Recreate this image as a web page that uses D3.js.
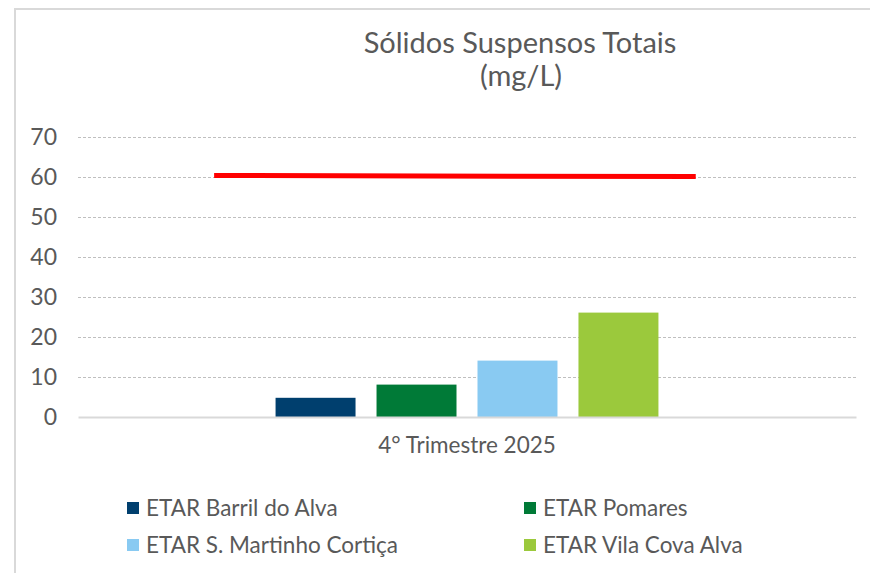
<!doctype html>
<html>
<head>
<meta charset="utf-8">
<style>
    body { margin: 0; background: #fff; }
    text { font-family: Lato, "Open Sans", sans-serif; fill: #595959; }
</style>
<script src="https://d3js.org/d3.v7.min.js"></script>
</head>
<body>
<svg width="870" height="573"></svg>
<script>
    // data
    var categories = ["4° Trimestre 2025"];
    var seriesNames = ["ETAR Barril do Alva", "ETAR Pomares", "ETAR S. Martinho Cortiça", "ETAR Vila Cova Alva"];
    var seriesValues = [4.8, 8.1, 14.1, 26.1];
    var seriesColors = ["#003f6e", "#007a37", "#89caf2", "#9bc93c"];
    var limitX = [17.5, 79.4];      // percent of plot width
    var limitValues = [60.4, 60.1];
    var yTicks = [0, 10, 20, 30, 40, 50, 60, 70];

    var svg = d3.select("svg");
    var margin = {left: 78, right: 14, top: 137, bottom: 156};
    var width = 870 - margin.left - margin.right,
        height = 573 - margin.top - margin.bottom;

    // outer frame
    svg.append("rect")
       .attr("x", 15).attr("y", 9)
       .attr("width", 900).attr("height", 600)
       .attr("fill", "none")
       .attr("stroke", "#d9d9d9")
       .attr("stroke-width", 2);

    // title
    var title = svg.append("text")
       .attr("x", 520).attr("y", 53)
       .attr("text-anchor", "middle")
       .attr("font-size", "29px");
    title.append("tspan").attr("x", 520).text("Sólidos Suspensos Totais");
    title.append("tspan").attr("x", 521).attr("dy", 33).text("(mg/L)");

    var g = svg.append("g")
               .attr("transform", "translate(" + margin.left + "," + margin.top + ")");

    var y = d3.scaleLinear().domain([0, 70]).range([height, 0]);
    var x0 = d3.scaleBand().domain(categories).range([0, width]).paddingInner(0).paddingOuter(0.516);
    var x1 = d3.scaleBand().domain(seriesNames).range([0, x0.bandwidth()]).paddingInner(0.208);
    var xl = d3.scaleLinear().domain([0, 100]).range([0, width]);

    // gridlines
    g.append("g")
     .selectAll("line")
     .data(yTicks.filter(function(d) { return d > 0; }))
     .enter().append("line")
     .attr("x1", 0).attr("x2", width)
     .attr("y1", function(d) { return Math.round(y(d)) + 0.5; })
     .attr("y2", function(d) { return Math.round(y(d)) + 0.5; })
     .attr("stroke", "#bfbfbf")
     .attr("stroke-dasharray", "3,2");

    // y axis labels
    var yAxis = g.append("g")
     .call(d3.axisLeft(y).tickValues(yTicks).tickSize(0).tickPadding(21));
    yAxis.select(".domain").remove();
    yAxis.selectAll("text").attr("font-size", "23px").attr("fill", "#595959")
         .style("font-family", "Lato, sans-serif");

    // bars
    g.selectAll(".bar")
     .data(seriesNames)
     .enter().append("rect")
     .attr("class", "bar")
     .attr("x", function(d) { return x0(categories[0]) + x1(d); })
     .attr("y", function(d, i) { return y(seriesValues[i]); })
     .attr("width", x1.bandwidth())
     .attr("height", function(d, i) { return height - y(seriesValues[i]); })
     .attr("fill", function(d, i) { return seriesColors[i]; });

    // x axis
    var xAxis = g.append("g")
     .attr("transform", "translate(0," + height + ")")
     .call(d3.axisBottom(x0).tickSize(0).tickPadding(20));
    xAxis.select(".domain").attr("stroke", "#d9d9d9").attr("stroke-width", 2);
    xAxis.selectAll("text").attr("font-size", "22.5px").attr("fill", "#595959")
         .style("font-family", "Lato, sans-serif");

    // limit line
    var limitLine = d3.line()
        .x(function(d) { return xl(d[0]); })
        .y(function(d) { return y(d[1]); });
    g.append("path")
     .datum(d3.zip(limitX, limitValues))
     .attr("d", limitLine)
     .attr("fill", "none")
     .attr("stroke", "#ff0000")
     .attr("stroke-width", 5);

    // legend
    var legend = svg.append("g");
    var item = legend.selectAll("g")
        .data(seriesNames)
        .enter().append("g")
        .attr("transform", function(d, i) {
            return "translate(" + (i % 2 ? 524 : 127) + "," + (i < 2 ? 508 : 545) + ")";
        });
    item.append("rect")
        .attr("x", 0).attr("y", -6)
        .attr("width", 12).attr("height", 12)
        .attr("fill", function(d, i) { return seriesColors[i]; });
    item.append("text")
        .attr("x", 19).attr("dy", "0.36em")
        .attr("font-size", "22.5px")
        .text(function(d) { return d; });
</script>
</body>
</html>
